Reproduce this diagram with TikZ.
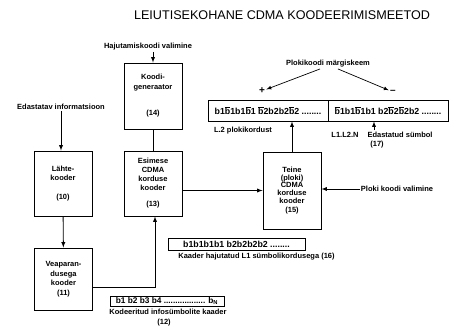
\documentclass[tikz,border=0pt]{standalone}
\usepackage{fontspec}
\setmainfont{Liberation Sans}
\usetikzlibrary{arrows}

\newcommand{\bbar}{$\overline{\mbox{b}}$}

\begin{document}
\begin{tikzpicture}[x=1pt, y=-1pt, >=latex, line width=0.9pt,
    blk/.style={draw, align=center, inner sep=0pt, minimum width=58pt,
      font=\bfseries\fontsize{7.5}{9.5}\selectfont},
    lbl/.style={inner sep=1pt, align=center, font=\bfseries\fontsize{7.5}{9}\selectfont},
    bits/.style={draw, inner sep=0pt, font=\bfseries\fontsize{8.8}{10}\selectfont}]

          \useasboundingbox (0,0) rectangle (453,327);

          \node (title) at (282,15) {\fontsize{12.6}{14}\selectfont LEIUTISEKOHANE CDMA KOODEERIMISMEETOD};

          % kastid
          \node[blk, minimum height=66pt] (gen) at (153,96) {Koodi-\\generaator\\[17pt](14)};
          \node[blk, minimum height=65pt, font=\bfseries\fontsize{7.5}{9}\selectfont] (esim) at (153,183.5)
                {Esimese\\CDMA\\korduse\\kooder\\[7pt](13)};
          \node[blk, minimum height=65pt] (lahte) at (63,183.5) {Lähte-\\kooder\\[9pt](10)};
          \node[blk, minimum height=62pt] (vea) at (63.5,279) {Veaparan-\\dusega\\kooder\\(11)};
          \node[blk, minimum height=77pt, font=\bfseries\fontsize{7.5}{7.7}\selectfont] (teine) at (292,190.5)
                {Teine\\(ploki)\\CDMA\\korduse\\kooder\\[1.5pt](15)};

          % kaadrid
          \node[bits, minimum width=120pt, minimum height=21pt] (blkL) at (268,110.5)
                {b1\bbar1b1\bbar1 \bbar2b2b2\bbar2 ........};
          \node[bits, minimum width=120pt, minimum height=21pt] (blkR) at (388,110.5)
                {\bbar1b1\bbar1b1 b2\bbar2\bbar2b2 ........};
          \node[bits, minimum width=137pt, minimum height=12pt] (kaad) at (236.5,244.5)
                {b1b1b1b1 b2b2b2b2 ........};
          \node[bits, minimum width=114pt, minimum height=10pt, font=\bfseries\fontsize{8.3}{9}\selectfont] (info) at (167,301)
                {b1 b2 b3 b4 .................. b\textsubscript{N}};

          % tekstid
          \node[lbl] (haj) at (148,47) {Hajutamiskoodi valimine};
          \node[lbl] (inf) at (61,107) {Edastatav informatsioon};
          \node[lbl] (mark) at (328,64) {Plokikoodi märgiskeem};
          \node[inner sep=1pt, font=\bfseries] (plus) at (262,91) {+};
          \node[inner sep=1pt, font=\bfseries] (minus) at (393,92) {--};
          \node[lbl] (plk) at (243,131) {L.2 plokikordust};
          \node[lbl] (lln) at (345,135) {L1.L2.N};
          \node[lbl] (sym) at (400,135) {Edastatud sümbol};
          \node[lbl] (nr17) at (377,145) {(17)};
          \node[lbl] (plv) at (397,189) {Ploki koodi valimine};
          \node[lbl] (kcap) at (256.5,257) {Kaader hajutatud L1 sümbolikordusega (16)};
          \node[lbl] (icap) at (168,312) {Kodeeritud infosümbolite kaader};
          \node[lbl] (nr12) at (164,323) {(12)};
          \coordinate (symtip) at (374,130);

          % nooled
          \draw [->] (gen.north |- haj.south) -- (gen.north);
          \draw [-] (gen) -- (esim);
          \draw [->] (inf.south) -- (inf.south |- lahte.north);
          \draw [->] (lahte) -- (vea);
          \draw [->] ([yshift=-8pt]vea.east) -| ([xshift=2pt]esim.south);
          \draw [->] (esim.east |- teine.west) -- (teine.west);
          \draw [->] (plv.west) -- (plv.west -| teine.east);
          \draw [->] (teine.north) -- (teine.north |- blkL.south);
          \draw [->] (symtip) -- (symtip |- blkR.south);
          \draw [->, line width=0.7pt] ([xshift=-8pt]mark.south) -- (plus);
          \draw [->, line width=0.7pt] ([xshift=10pt]mark.south) -- (minus);
          %\draw [dashed] (blkL.south) -- (kaad.north);

\end{tikzpicture}
\end{document}
